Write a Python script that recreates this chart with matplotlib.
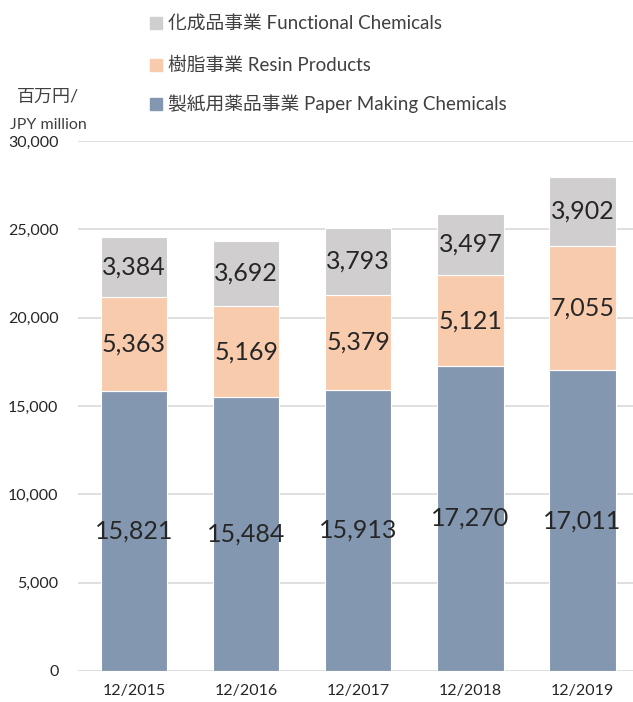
import numpy as np
import matplotlib.pyplot as plt

plt.rcParams['font.family'] = ['Lato', 'Noto Sans CJK JP', 'DejaVu Sans']

years = ["12/2015", "12/2016", "12/2017", "12/2018", "12/2019"]
paper = [15821, 15484, 15913, 17270, 17011]
resin = [5363, 5169, 5379, 5121, 7055]
functional = [3384, 3692, 3793, 3497, 3902]

series_names = [
    "製紙用薬品事業 Paper Making Chemicals",
    "樹脂事業 Resin Products",
    "化成品事業 Functional Chemicals",
]
COLORS = ["#8497B0", "#F8CBAD", "#D0CECE"]
TEXT_DARK = "#262626"
TEXT_GREY = "#404040"

W, H = 633, 702
fig = plt.figure(figsize=(W / 100, H / 100), dpi=100)
ax = fig.add_axes([78 / W, 1 - 671 / H, 555 / W, 530 / H])

x = np.arange(len(years))
bottom = np.zeros(len(years))
for vals, col in zip([paper, resin, functional], COLORS):
    vals = np.array(vals)
    ax.bar(x, vals, bottom=bottom, width=0.59, color=col,
           edgecolor="white", linewidth=0.8, zorder=2)
    for xi, b, v in zip(x, bottom, vals):
        ax.text(xi, b + v / 2, f"{v:,}", ha="center", va="center",
                fontsize=18, color=TEXT_DARK, zorder=3)
    bottom += vals

ax.set_xlim(-0.5, 4.45)
ax.set_ylim(0, 30000)
ax.set_yticks(np.arange(0, 30001, 5000))
ax.set_yticklabels([f"{v:,}" for v in range(0, 30001, 5000)])
ax.set_xticks(x)
ax.set_xticklabels(years)
ax.tick_params(axis="both", length=0, labelsize=11.5, colors=TEXT_DARK)
ax.tick_params(axis="y", pad=14)
ax.tick_params(axis="x", pad=9)
ax.yaxis.grid(True, color="#D9D9D9", linewidth=1.2, zorder=0)
ax.set_axisbelow(True)
for s in ax.spines.values():
    s.set_visible(False)

# legend (top entry first = Functional)
leg_y = [23, 65, 104]
for name, col, yy in zip(series_names[::-1], COLORS[::-1], leg_y):
    fig.patches.append(plt.Rectangle((150 / W, 1 - (yy + 6) / H), 12 / W, 12 / H,
                                     transform=fig.transFigure, color=col))
    fig.text(168 / W, 1 - yy / H, name, ha="left", va="center",
             fontsize=13.5, color=TEXT_GREY)

fig.text(48 / W, 1 - 97 / H, "百万円/", ha="center", va="center",
         fontsize=13, color=TEXT_GREY)
fig.text(48 / W, 1 - 125 / H, "JPY million", ha="center", va="center",
         fontsize=11.5, color=TEXT_GREY)

fig.savefig("out.png", dpi=100)
